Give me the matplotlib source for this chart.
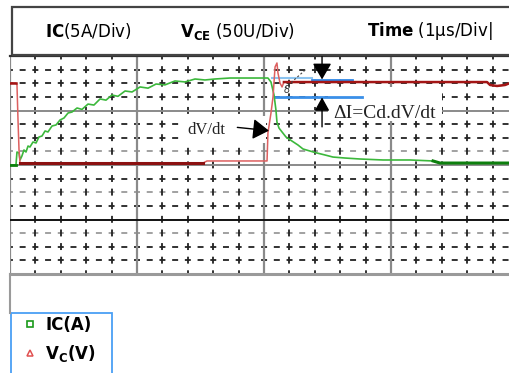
import numpy as np
import matplotlib
matplotlib.use("Agg")
import matplotlib.pyplot as plt
from matplotlib.patches import Rectangle
from matplotlib.lines import Line2D

plt.rcParams['lines.scale_dashes'] = False
plt.rcParams['mathtext.fontset'] = 'dejavusans'

# --- scope settings (per division) ---
ic_per_div = 5.0      # A/Div
vce_per_div = 50.0    # V/Div
time_per_div = 1.0    # us/Div

# --- collector current trace ---
t_ic_us = [0, 0.047, 0.055, 0.071, 0.079, 0.094, 0.110, 0.126, 0.142, 0.157,
           0.181, 0.205, 0.228, 0.252, 0.276, 0.299, 0.331, 0.362, 0.394, 0.425,
           0.457, 0.488, 0.528, 0.567, 0.614, 0.661, 0.709, 0.756, 0.803, 0.850,
           0.906, 0.961, 1.024, 1.087, 1.150, 1.220, 1.299, 1.378, 1.457, 1.535,
           1.614, 1.732, 1.850, 1.969, 2.031, 2.055, 2.079, 2.094, 2.102, 2.118,
           2.142, 2.173, 2.220, 2.268, 2.307, 2.362, 2.417, 2.480, 2.543, 2.638,
           2.756, 2.937, 3.150, 3.331, 3.386, 3.937]
ic_a = [0.0, 0.0, 1.19, 1.10, 0.46, 0.83, 1.38, 1.19, 1.74, 1.65,
        2.11, 2.02, 2.57, 2.66, 3.12, 3.03, 3.58, 3.67, 4.13, 4.31,
        4.77, 4.86, 5.23, 5.10, 5.59, 5.50, 6.06, 5.95, 6.42, 6.30,
        6.79, 6.70, 7.16, 7.05, 7.43, 7.35, 7.71, 7.62, 7.89, 7.80,
        7.89, 7.98, 7.98, 7.98, 7.98, 7.61, 6.42, 5.05, 3.94, 3.39,
        3.03, 2.57, 2.20, 1.83, 1.47, 1.28, 1.10, 0.92, 0.73, 0.64,
        0.55, 0.46, 0.46, 0.37, 0.18, 0.18]

# --- collector-emitter voltage trace ---
t_vce_us = [0, 0.047, 0.055, 0.063, 0.071, 0.079, 0.394, 1.520, 1.551, 2.024,
            2.031, 2.055, 2.071, 2.087, 2.102, 2.110, 2.126, 2.142, 2.157, 2.228,
            3.756, 3.780, 3.835, 3.898, 3.937]
vce_v = [75.2, 75.2, 73.4, 41.3, 13.8, 1.8, 1.8, 1.8, 3.7, 3.7,
         29.4, 47.7, 62.4, 89.9, 93.6, 84.4, 75.2, 71.6, 76.1, 76.1,
         76.1, 73.4, 72.5, 73.4, 75.2]

# delta-I markers (A)
di_upper_light_a = 7.98
di_upper_a = 7.80
di_lower_a = 6.24

header_labels = [r"$\mathbf{IC}$(5A/Div)", r"$\mathbf{V}_{\mathbf{CE}}$ (50U/Div)", r"$\mathbf{Time}$ (1µs/Div|"]
legend_labels = ["IC(A)", r"$\mathbf{V}_{\mathbf{C}}$(V)"]

W, H = 510, 373

def fx(px):
    return px / W

def fy(py):
    return 1 - py / H

fig = plt.figure(figsize=(W / 100, H / 100), dpi=100)
fig.patch.set_facecolor('white')

ax = fig.add_axes([fx(10), fy(274), fx(500), 218 / H])
xmax = 500 / 127 * time_per_div
ax.set_xlim(0, xmax)
ax.set_ylim(-2, 2)
ax.axis('off')

# ---- graticule ----
row_colors = {1.75: '#222', 1.5: '#222', 1.25: '#222', 0.75: '#222', 0.5: '#222', 0.25: '#9a9a9a',
              -0.25: '#222', -0.5: '#9a9a9a', -0.75: '#222', -1.25: '#9a9a9a', -1.5: '#222', -1.75: '#222'}
for y, c in row_colors.items():
    ax.plot([0, xmax], [y, y], color=c, lw=1.3, ls=(2.2, (4.3, 4.85)), zorder=1)

for k in range(1, 20):
    if k % 5 == 0:
        continue
    x = k * 0.2
    ax.plot([x, x], [2, -2], color='#222', lw=1.3, ls=(2.5, (5.0, 4.8)), zorder=1)

for x in [0, 1, 2, 3]:
    ax.plot([x, x], [2, -2], color='#8a8a8a', lw=1.6, zorder=1.5)
ax.plot([0, xmax], [1, 1], color='#8a8a8a', lw=1.4, zorder=1.5)
ax.plot([0, xmax], [0, 0], color='#8a8a8a', lw=1.4, zorder=1.5)
ax.plot([0, xmax], [-1, -1], color='#111', lw=1.4, zorder=1.5)
ax.plot([0, xmax], [-2, -2], color='#9a9a9a', lw=2.2, zorder=1.5, clip_on=False)
ax.plot([0, xmax], [2, 2], color='#333', lw=1.6, zorder=1.5, clip_on=False)

# white areas behind annotations
ax.add_patch(Rectangle((1.354, 0.40), 0.66, 0.50, fc='white', ec='none', zorder=2))
ax.add_patch(Rectangle((2.504, 0.80), 0.90, 0.63, fc='white', ec='none', zorder=2))

# ---- traces ----
t_ic = np.array(t_ic_us) / time_per_div
ic_div = np.array(ic_a) / ic_per_div
t_v = np.array(t_vce_us) / time_per_div
v_div = np.array(vce_v) / vce_per_div

ax.plot(t_ic, ic_div, color='#3cb83c', lw=1.2, zorder=4)
ax.plot(t_ic[63:], ic_div[63:], color='#0d7f0d', lw=2.2, zorder=4)
ax.plot(t_ic[:2], ic_div[:2], color='#0d7f0d', lw=2.0, zorder=4)

ax.plot(t_v, v_div, color='#dd6060', lw=1.1, zorder=5)
ax.plot(t_v[:2], v_div[:2], color='#a31515', lw=1.8, zorder=5)
ax.plot(t_v[5:8], v_div[5:8], color='#8b1010', lw=2.2, zorder=5)
ax.plot(t_v[18:], v_div[18:], color='#a31515', lw=1.8, zorder=5)

# ---- delta-I annotation ----
ax.plot([2.063, 2.378], [di_upper_light_a / ic_per_div] * 2, color='#8cc4f0', lw=1.5, zorder=3)
ax.plot([2.378, 2.693], [di_upper_a / ic_per_div] * 2, color='#2e86e6', lw=2.0, zorder=3)
ax.plot([2.087, 2.772], [di_lower_a / ic_per_div] * 2, color='#3a8fe8', lw=2.0, zorder=3)

ax.annotate('', xy=(2.457, 1.57), xytext=(2.457, 1.99),
            arrowprops=dict(arrowstyle='-|>,head_length=0.55,head_width=0.32', color='black',
                            lw=1, mutation_scale=18, shrinkA=0, shrinkB=0), zorder=6)
ax.annotate('', xy=(2.457, 1.24), xytext=(2.457, 0.70),
            arrowprops=dict(arrowstyle='-|>,head_length=0.45,head_width=0.25', color='black',
                            lw=1, mutation_scale=18, shrinkA=0, shrinkB=0), zorder=6)
ax.text(2.543, 0.954, "ΔI=Cd.dV/dt", fontsize=14, family='Liberation Serif',
        color='#222', ha='left', va='center', zorder=6)

ax.plot([2.165, 2.323], [1.41, 1.74], color='#444', lw=0.8, ls=(0, (1.5, 1.5)), zorder=6)
ax.text(2.18, 1.38, "8", fontsize=7, style='italic', color='#333', ha='center', va='center', zorder=6)

# ---- dV/dt annotation ----
ax.text(1.394, 0.642, "dV/dt", fontsize=12, family='Liberation Serif',
        color='#222', ha='left', va='center', zorder=6)
ax.annotate('', xy=(2.039, 0.63), xytext=(1.79, 0.69),
            arrowprops=dict(arrowstyle='-|>,head_length=0.55,head_width=0.35', color='black',
                            lw=1, mutation_scale=18, shrinkA=0, shrinkB=0), zorder=6)

# ---- header box ----
fig.add_artist(Rectangle((fx(12), fy(55)), fx(520), 48 / H, transform=fig.transFigure,
                         fill=False, ec='#444', lw=1.6))
fig.text(fx(45), fy(31), header_labels[0], fontsize=12, va='center', ha='left')
fig.text(fx(180), fy(31), header_labels[1], fontsize=12, va='center', ha='left')
fig.text(fx(367), fy(31), header_labels[2], fontsize=12, va='center', ha='left')

# ---- lower frame and legend ----
fig.add_artist(Line2D([fx(10), fx(10)], [fy(274), fy(313)], color='#9a9a9a', lw=1.5))
fig.add_artist(Rectangle((fx(11), fy(385)), fx(101), 72 / H, transform=fig.transFigure,
                         fill=False, ec='#4a9ff5', lw=1.3))

handles = [Line2D([], [], ls='none', marker='s', ms=4.5, mfc='none', mec='#1a9a1a', mew=1.2),
           Line2D([], [], ls='none', marker='^', ms=5, mfc='none', mec='#e05050', mew=1.1)]
fig.legend(handles, legend_labels, loc='upper left', bbox_to_anchor=(fx(22), fy(316)),
           bbox_transform=fig.transFigure, frameon=False, borderpad=0, borderaxespad=0,
           handlelength=1.0, handletextpad=0.4, labelspacing=0.55,
           prop=dict(weight='bold', size=12))

fig.savefig('out.png', dpi=100, facecolor='white')
